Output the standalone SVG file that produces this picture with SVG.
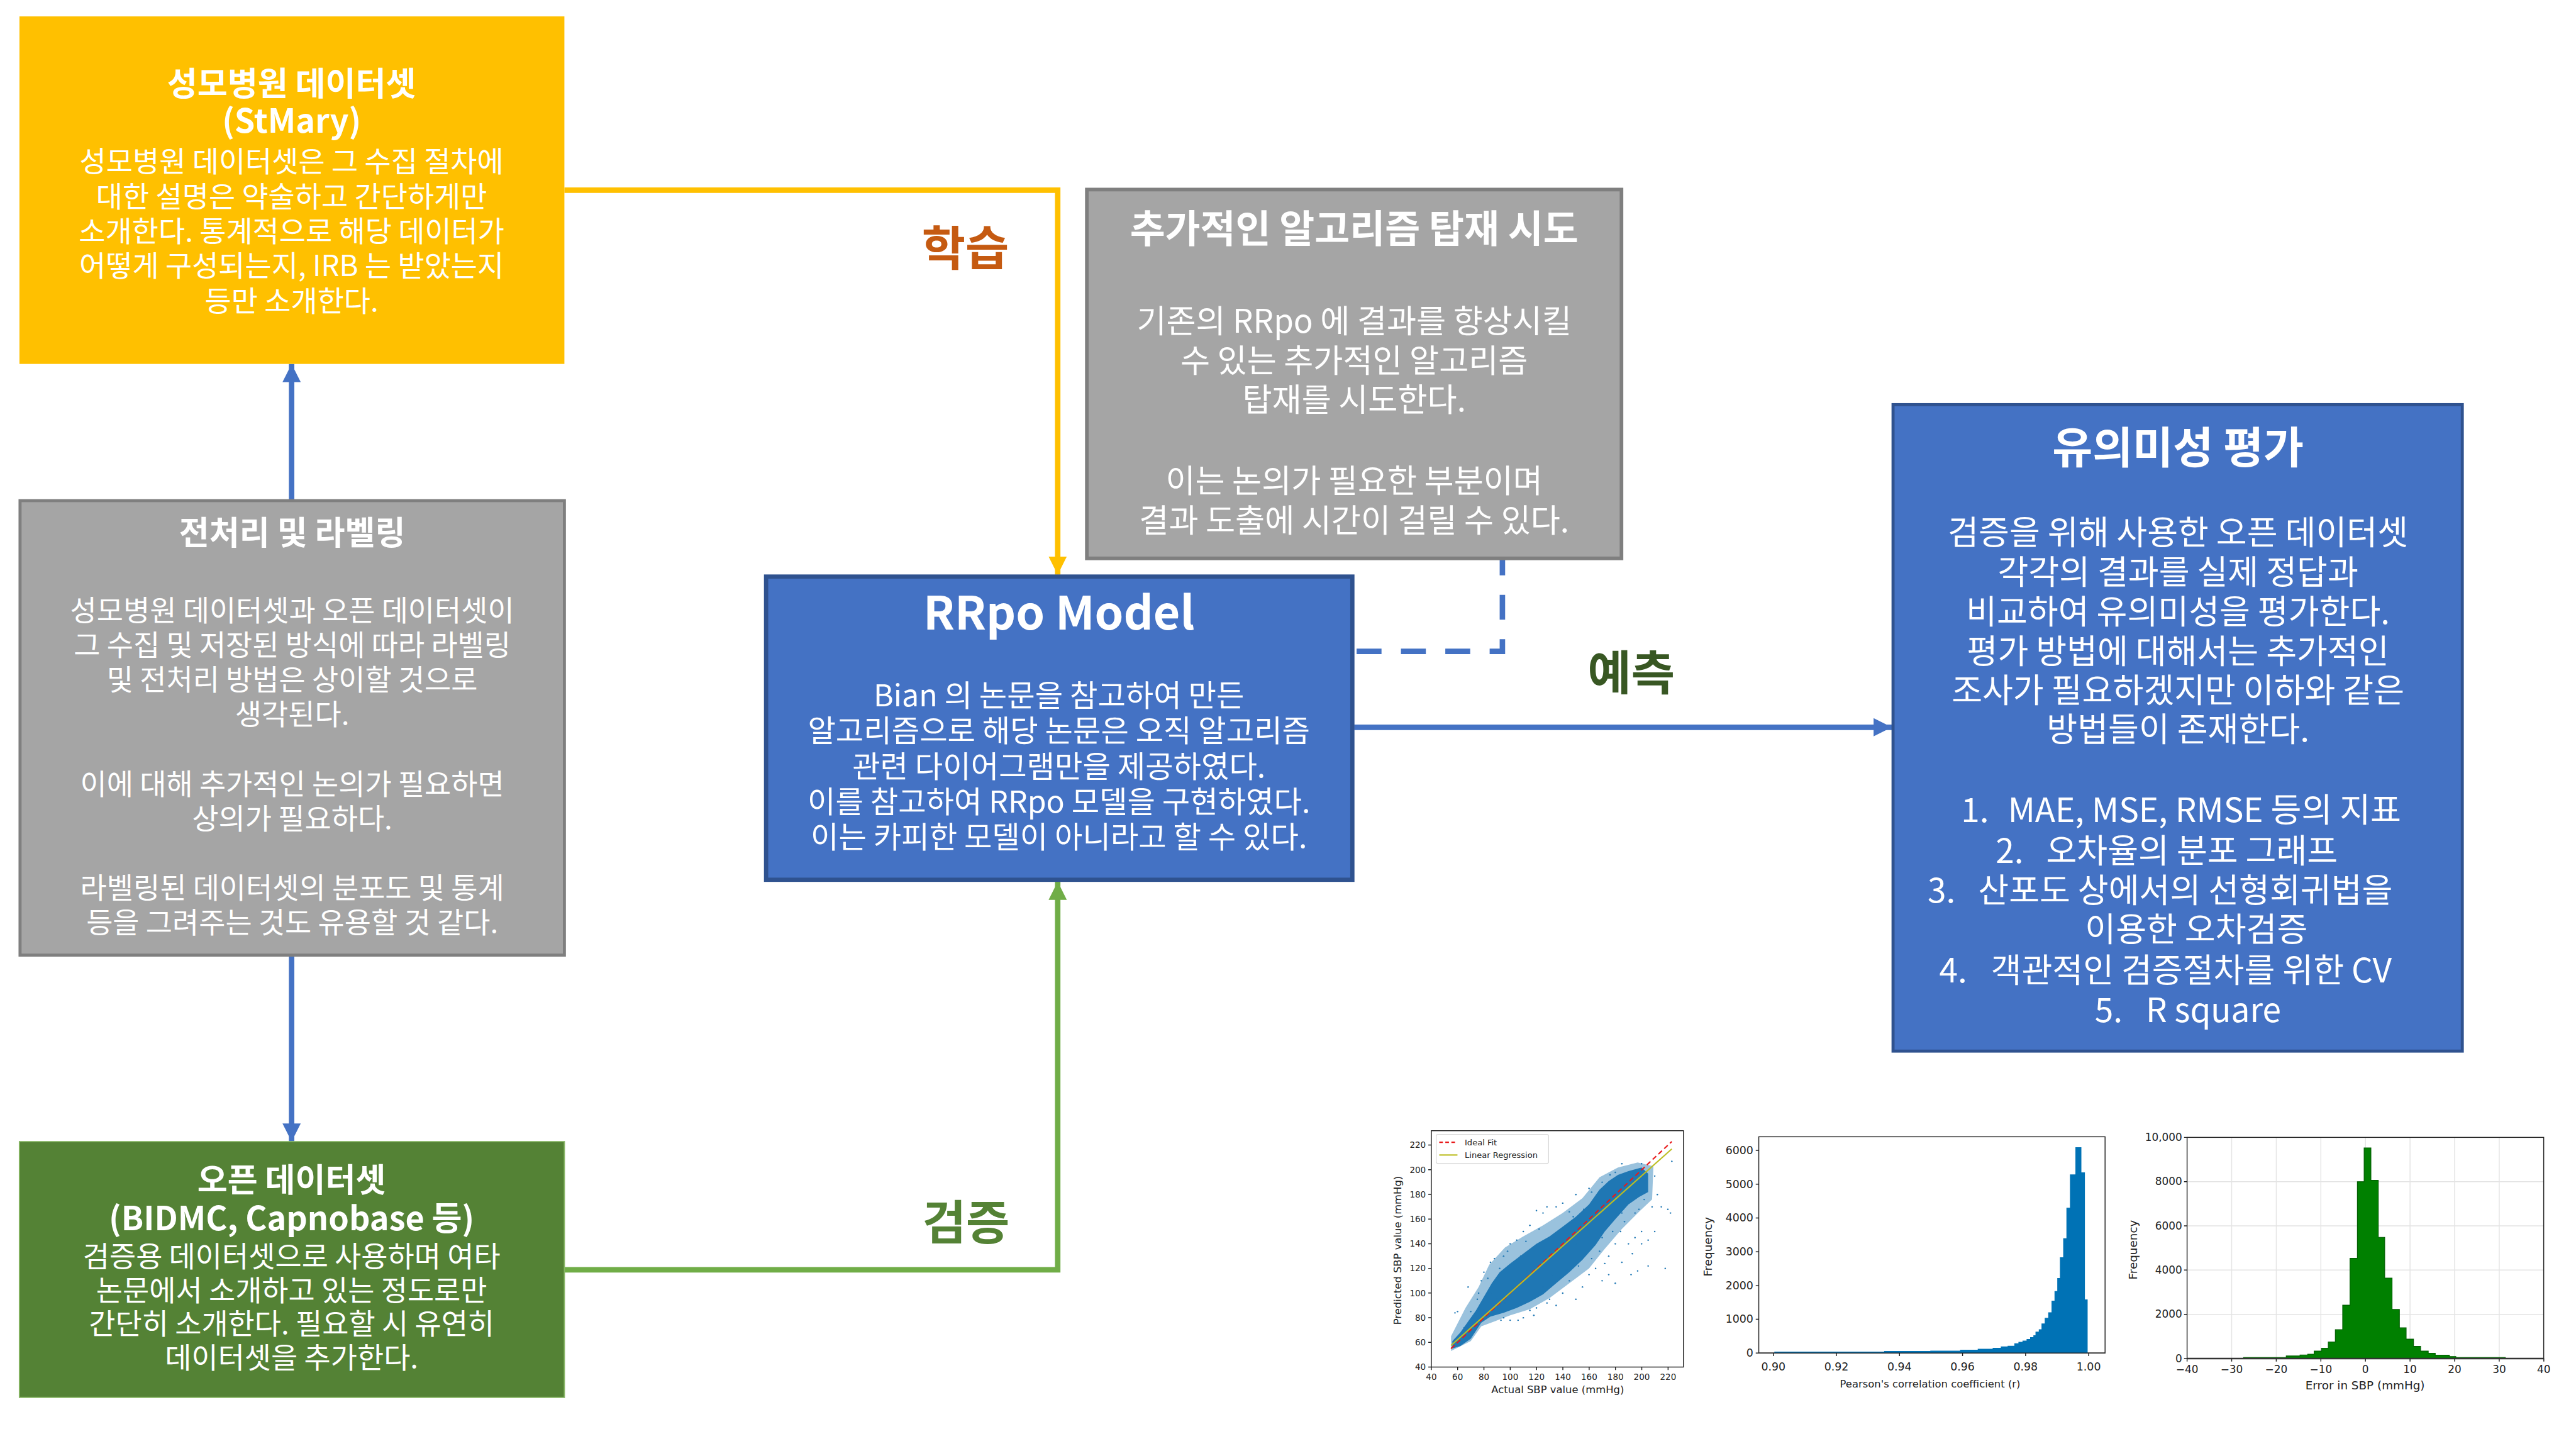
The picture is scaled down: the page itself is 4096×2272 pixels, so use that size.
<svg xmlns="http://www.w3.org/2000/svg" width="4096" height="2272" viewBox="0 0 4096 2272">
<style>
.k{font-family:"Noto Sans CJK KR","Noto Sans",sans-serif;fill:#fff;text-anchor:middle}
.s{text-anchor:start}
.b{font-weight:700}
.body{font-size:47.5px}
.lbl{font-family:"Noto Sans CJK KR",sans-serif;font-weight:700;font-size:78px;text-anchor:middle}
.ch{font-family:"DejaVu Sans","Liberation Sans",sans-serif;fill:#222}
.tk{stroke:#222;stroke-width:1.5}
.grid{stroke:#e4e4e4;stroke-width:1.5}
.conn{fill:none;stroke-width:9}
</style>
<defs>
<marker id="ay" markerUnits="userSpaceOnUse" markerWidth="32" markerHeight="32" refX="30" refY="16" orient="auto"><path d="M0,1 L30,16 L0,31 z" fill="#ffc000"/></marker>
<marker id="ag" markerUnits="userSpaceOnUse" markerWidth="32" markerHeight="32" refX="30" refY="16" orient="auto"><path d="M0,1 L30,16 L0,31 z" fill="#70ad47"/></marker>
<marker id="ab" markerUnits="userSpaceOnUse" markerWidth="32" markerHeight="32" refX="30" refY="16" orient="auto"><path d="M0,1 L30,16 L0,31 z" fill="#4472c4"/></marker>
</defs>
<rect width="4096" height="2272" fill="#fff"/>
<g transform="scale(0.966)">

<g id="connectors">
<path class="conn" d="M929,313 H1741 V946" stroke="#ffc000" marker-end="url(#ay)"/>
<path class="conn" d="M929,2090 H1741 V1451" stroke="#70ad47" marker-end="url(#ag)"/>
<path class="conn" d="M480,822 V599" stroke="#4472c4" marker-end="url(#ab)"/>
<path class="conn" d="M480,1574 V1879" stroke="#4472c4" marker-end="url(#ab)"/>
<path class="conn" d="M2229,1197 H3114" stroke="#4472c4" marker-end="url(#ab)"/>
<path class="conn" d="M2233,1072 H2473 V921" stroke="#4472c4" stroke-dasharray="41 32"/>
</g>

<g id="labels">
<text class="lbl" x="1589" y="437" fill="#c55a11">학습</text>
<text class="lbl" x="2685" y="1136" fill="#385723">예측</text>
<text class="lbl" x="1590" y="2040" fill="#548235">검증</text>
</g>

<g id="node-stmary">
<rect x="32" y="27" width="897" height="572" fill="#ffc000"/>
<text class="k b" font-size="54"><tspan x="480" y="157">성모병원 데이터셋</tspan><tspan x="480" dy="61">(StMary)</tspan></text>
<text class="k body"><tspan x="480" y="283">성모병원 데이터셋은 그 수집 절차에</tspan><tspan x="480" dy="57.3">대한 설명은 약술하고 간단하게만</tspan><tspan x="480" dy="57.3">소개한다. 통계적으로 해당 데이터가</tspan><tspan x="480" dy="57.3">어떻게 구성되는지, IRB 는 받았는지</tspan><tspan x="480" dy="57.3">등만 소개한다.</tspan></text>
</g>

<g id="node-preprocessing">
<rect x="33" y="824" width="896" height="748" fill="#a5a5a5" stroke="#7f7f7f" stroke-width="5"/>
<text class="k b" x="481" y="896" font-size="54">전처리 및 라벨링</text>
<text class="k body"><tspan x="481" y="1022">성모병원 데이터셋과 오픈 데이터셋이</tspan><tspan x="481" dy="57">그 수집 및 저장된 방식에 따라 라벨링</tspan><tspan x="481" dy="57">및 전처리 방법은 상이할 것으로</tspan><tspan x="481" dy="57">생각된다.</tspan><tspan x="481" dy="114">이에 대해 추가적인 논의가 필요하면</tspan><tspan x="481" dy="57">상의가 필요하다.</tspan><tspan x="481" dy="114">라벨링된 데이터셋의 분포도 및 통계</tspan><tspan x="481" dy="57">등을 그려주는 것도 유용할 것 같다.</tspan></text>
</g>

<g id="node-open-dataset">
<rect x="32" y="1879" width="897" height="421" fill="#548235" stroke="#86b464" stroke-width="2"/>
<text class="k b" font-size="54"><tspan x="480" y="1962">오픈 데이터셋</tspan><tspan x="480" dy="63">(BIDMC, Capnobase 등)</tspan></text>
<text class="k body"><tspan x="480" y="2085">검증용 데이터셋으로 사용하며 여타</tspan><tspan x="480" dy="55.5">논문에서 소개하고 있는 정도로만</tspan><tspan x="480" dy="55.5">간단히 소개한다. 필요할 시 유연히</tspan><tspan x="480" dy="55.5">데이터셋을 추가한다.</tspan></text>
</g>

<g id="node-additional">
<rect x="1789" y="312" width="880" height="607" fill="#a5a5a5" stroke="#7f7f7f" stroke-width="6"/>
<text class="k b" x="2229" y="400" font-size="63">추가적인 알고리즘 탑재 시도</text>
<text class="k" font-size="53"><tspan x="2229" y="548">기존의 RRpo 에 결과를 향상시킬</tspan><tspan x="2229" dy="65">수 있는 추가적인 알고리즘</tspan><tspan x="2229" dy="64">탑재를 시도한다.</tspan><tspan x="2229" dy="134">이는 논의가 필요한 부분이며</tspan><tspan x="2229" dy="65">결과 도출에 시간이 걸릴 수 있다.</tspan></text>
</g>

<g id="node-rrpo">
<rect x="1261" y="949" width="965" height="499" fill="#4472c4" stroke="#2f528f" stroke-width="7"/>
<text class="k b" x="1743" y="1036" font-size="76">RRpo Model</text>
<text class="k" font-size="50"><tspan x="1743" y="1163">Bian 의 논문을 참고하여 만든</tspan><tspan x="1743" dy="58">알고리즘으로 해당 논문은 오직 알고리즘</tspan><tspan x="1743" dy="58">관련 다이어그램만을 제공하였다.</tspan><tspan x="1743" dy="58">이를 참고하여 RRpo 모델을 구현하였다.</tspan><tspan x="1743" dy="58">이는 카피한 모델이 아니라고 할 수 있다.</tspan></text>
</g>

<g id="node-significance">
<rect x="3116" y="666" width="937" height="1064" fill="#4472c4" stroke="#2f528f" stroke-width="5"/>
<text class="k b" x="3585" y="763" font-size="72">유의미성 평가</text>
<text class="k" font-size="55"><tspan x="3585" y="896">검증을 위해 사용한 오픈 데이터셋</tspan><tspan x="3585" dy="66">각각의 결과를 실제 정답과</tspan><tspan x="3585" dy="65">비교하여 유의미성을 평가한다.</tspan><tspan x="3585" dy="65">평가 방법에 대해서는 추가적인</tspan><tspan x="3585" dy="64">조사가 필요하겠지만 이하와 같은</tspan><tspan x="3585" dy="64">방법들이 존재한다.</tspan></text>
<text class="k s" font-size="55"><tspan x="3228" y="1353">1.</tspan><tspan x="3305">MAE, MSE, RMSE 등의 지표</tspan><tspan x="3285" y="1420">2.</tspan><tspan x="3368">오차율의 분포 그래프</tspan><tspan x="3173" y="1485">3.</tspan><tspan x="3256">산포도 상에서의 선형회귀법을</tspan><tspan x="3432" y="1550">이용한 오차검증</tspan><tspan x="3192" y="1617">4.</tspan><tspan x="3277">객관적인 검증절차를 위한 CV</tspan><tspan x="3448" y="1682">5.</tspan><tspan x="3532">R square</tspan></text>
</g>

<g id="chart-scatter">
<rect x="2356" y="1861" width="415" height="389" fill="#fff" stroke="#222" stroke-width="1.5"/>
<g transform="matrix(2.163,0,0,-2.028,2269.48,2331.12)" fill="#1f77b4">
<polygon fill-opacity="0.45" points="55,53 70,61 78,73 88,77 100,82 115,87 130,96 145,108 160,120 172,136 185,152 198,166 208,176 209,203 197,206 182,202 168,194 155,177 140,165 125,155 110,146 96,137 84,123 76,105 66,88 55,65"/>
<polygon points="56,55 62,57 70,63 78,76 85,81 95,84 105,88 115,93 125,99 135,108 145,117 155,127 165,139 172,150 180,160 190,172 198,178 205,182 205,197 200,202 190,199 182,196 175,191 168,184 160,172 150,162 140,154 130,146 120,140 110,132 100,124 92,117 86,108 80,97 74,86 68,77 62,68 56,61"/>
<g>
<circle cx="190" cy="175" r="0.6"/><circle cx="195" cy="165" r="0.6"/><circle cx="200" cy="150" r="0.6"/><circle cx="205" cy="143" r="0.6"/><circle cx="210" cy="150" r="0.6"/><circle cx="215" cy="170" r="0.6"/><circle cx="220" cy="168" r="0.6"/><circle cx="222" cy="165" r="0.6"/><circle cx="218" cy="120" r="0.6"/><circle cx="192" cy="115" r="0.6"/><circle cx="185" cy="125" r="0.6"/><circle cx="180" cy="140" r="0.6"/><circle cx="175" cy="130" r="0.6"/><circle cx="170" cy="145" r="0.6"/><circle cx="165" cy="120" r="0.6"/><circle cx="160" cy="115" r="0.6"/><circle cx="155" cy="105" r="0.6"/><circle cx="150" cy="95" r="0.6"/><circle cx="145" cy="110" r="0.6"/><circle cx="140" cy="100" r="0.6"/><circle cx="135" cy="90" r="0.6"/><circle cx="130" cy="95" r="0.6"/><circle cx="125" cy="105" r="0.6"/><circle cx="120" cy="88" r="0.6"/><circle cx="110" cy="80" r="0.6"/><circle cx="100" cy="78" r="0.6"/><circle cx="95" cy="80" r="0.6"/><circle cx="90" cy="95" r="0.6"/><circle cx="85" cy="100" r="0.6"/><circle cx="78" cy="110" r="0.6"/><circle cx="75" cy="95" r="0.6"/><circle cx="70" cy="85" r="0.6"/><circle cx="65" cy="72" r="0.6"/><circle cx="60" cy="85" r="0.6"/><circle cx="58" cy="84" r="0.6"/><circle cx="68" cy="105" r="0.6"/><circle cx="80" cy="117" r="0.6"/><circle cx="85" cy="125" r="0.6"/><circle cx="95" cy="130" r="0.6"/><circle cx="100" cy="140" r="0.6"/><circle cx="105" cy="143" r="0.6"/><circle cx="110" cy="150" r="0.6"/><circle cx="115" cy="155" r="0.6"/><circle cx="120" cy="167" r="0.6"/><circle cx="125" cy="165" r="0.6"/><circle cx="128" cy="170" r="0.6"/><circle cx="140" cy="173" r="0.6"/><circle cx="135" cy="170" r="0.6"/><circle cx="150" cy="180" r="0.6"/><circle cx="160" cy="185" r="0.6"/><circle cx="165" cy="176" r="0.6"/><circle cx="170" cy="190" r="0.6"/><circle cx="180" cy="198" r="0.6"/><circle cx="185" cy="205" r="0.6"/><circle cx="200" cy="205" r="0.6"/><circle cx="210" cy="195" r="0.6"/><circle cx="212" cy="180" r="0.6"/><circle cx="208" cy="170" r="0.6"/><circle cx="223" cy="207" r="0.6"/><circle cx="195" cy="145" r="0.6"/><circle cx="190" cy="140" r="0.6"/><circle cx="175" cy="115" r="0.6"/><circle cx="170" cy="110" r="0.6"/><circle cx="180" cy="108" r="0.6"/><circle cx="200" cy="140" r="0.6"/><circle cx="205" cy="122" r="0.6"/><circle cx="197" cy="118" r="0.6"/><circle cx="185" cy="165" r="0.6"/><circle cx="178" cy="150" r="0.6"/><circle cx="162" cy="128" r="0.6"/><circle cx="150" cy="140" r="0.6"/><circle cx="132" cy="115" r="0.6"/><circle cx="118" cy="82" r="0.6"/><circle cx="106" cy="78" r="0.6"/><circle cx="96" cy="92" r="0.6"/><circle cx="92" cy="120" r="0.6"/><circle cx="88" cy="128" r="0.6"/><circle cx="108" cy="130" r="0.6"/><circle cx="148" cy="162" r="0.6"/><circle cx="156" cy="168" r="0.6"/><circle cx="187" cy="158" r="0.6"/><circle cx="193" cy="132" r="0.6"/><circle cx="172" cy="124" r="0.6"/><circle cx="158" cy="132" r="0.6"/><circle cx="143" cy="119" r="0.6"/><circle cx="127" cy="126" r="0.6"/><circle cx="113" cy="119" r="0.6"/><circle cx="103" cy="110" r="0.6"/><circle cx="83" cy="112" r="0.6"/><circle cx="72" cy="80" r="0.6"/>
<circle cx="138" cy="112" r="0.6"/><circle cx="152" cy="122" r="0.6"/><circle cx="168" cy="134" r="0.6"/><circle cx="184" cy="150" r="0.6"/><circle cx="198" cy="168" r="0.6"/><circle cx="202" cy="176" r="0.6"/><circle cx="122" cy="152" r="0.6"/><circle cx="112" cy="142" r="0.6"/><circle cx="98" cy="134" r="0.6"/><circle cx="145" cy="166" r="0.6"/><circle cx="162" cy="182" r="0.6"/><circle cx="176" cy="196" r="0.6"/><circle cx="93" cy="78" r="0.6"/><circle cx="115" cy="86" r="0.6"/><circle cx="128" cy="92" r="0.6"/><circle cx="76" cy="100" r="0.6"/>
</g>
</g>
<line x1="2388.4" y1="2219.6" x2="2751.8" y2="1878.9" stroke="#e8191a" stroke-width="2.2" stroke-dasharray="8 5"/>
<line x1="2388.4" y1="2214.5" x2="2751.8" y2="1891" stroke="#bcbd22" stroke-width="2.2"/>
<rect x="2364" y="1867" width="185" height="48" rx="3" fill="#fff" fill-opacity="0.85" stroke="#d5d5d5" stroke-width="1.2"/>
<line x1="2369" y1="1880" x2="2399" y2="1880" stroke="#e8191a" stroke-width="2.2" stroke-dasharray="6 4"/>
<line x1="2369" y1="1901" x2="2399" y2="1901" stroke="#bcbd22" stroke-width="2.2"/>
<text class="ch" font-size="13.5"><tspan x="2411" y="1885">Ideal Fit</tspan><tspan x="2411" y="1906">Linear Regression</tspan></text>
<g class="tk">
<path d="M2356,2250v5M2399.3,2250v5M2442.6,2250v5M2485.9,2250v5M2529.2,2250v5M2572.5,2250v5M2615.8,2250v5M2659.1,2250v5M2702.4,2250v5M2745.7,2250v5"/>
<path d="M2351,2250h5M2351,2209.4h5M2351,2168.8h5M2351,2128.2h5M2351,2087.6h5M2351,2047h5M2351,2006.4h5M2351,1965.8h5M2351,1925.2h5M2351,1884.6h5"/>
</g>
<g class="ch" font-size="14" text-anchor="middle">
<text x="2356" y="2271">40</text><text x="2399.3" y="2271">60</text><text x="2442.6" y="2271">80</text><text x="2485.9" y="2271">100</text><text x="2529.2" y="2271">120</text><text x="2572.5" y="2271">140</text><text x="2615.8" y="2271">160</text><text x="2659.1" y="2271">180</text><text x="2702.4" y="2271">200</text><text x="2745.7" y="2271">220</text>
</g>
<g class="ch" font-size="14" text-anchor="end">
<text x="2347" y="2255">40</text><text x="2347" y="2214.4">60</text><text x="2347" y="2173.8">80</text><text x="2347" y="2133.2">100</text><text x="2347" y="2092.6">120</text><text x="2347" y="2052">140</text><text x="2347" y="2011.4">160</text><text x="2347" y="1970.8">180</text><text x="2347" y="1930.2">200</text><text x="2347" y="1889.6">220</text>
</g>
<text class="ch" x="2564" y="2293" font-size="17" text-anchor="middle">Actual SBP value (mmHg)</text>
<text class="ch" transform="translate(2306,2058) rotate(-90)" font-size="17" text-anchor="middle">Predicted SBP value (mmHg)</text>
</g>

<g id="chart-pearson">
<rect x="2895" y="1871" width="570" height="356" fill="#fff" stroke="#222" stroke-width="1.5"/>
<path fill="#0072b5" d="M2920.6,2226.9 V2224.7 H3101.4 V2223.7 H3177.3 V2223.1 H3226.4 V2221.5 H3255.4 V2219.9 H3280 V2218.3 H3293.4 V2216.1 H3304.6 V2215.1 H3315.7 V2211 H3322.4 V2208.7 H3329.1 V2206.5 H3335.8 V2204 H3341.6 V2200.8 H3347 V2197.6 H3350.5 V2191.8 H3355.9 V2188 H3360.4 V2178.4 H3365.7 V2168.9 H3371.5 V2160 H3376.9 V2140.8 H3381.8 V2124.9 H3386.3 V2103.5 H3390.7 V2069.4 H3396.1 V2038.1 H3401.4 V1987.8 H3407.2 V1932.9 H3416.2 V1888.3 H3426 V1929.7 H3431.8 V2138.6 H3436.3 V2226.9 Z"/>
<line x1="2895" y1="2227" x2="3465" y2="2227" stroke="#222" stroke-width="1.5"/>
<g class="tk">
<path d="M2919,2227v5M3022.8,2227v5M3126.6,2227v5M3230.4,2227v5M3334.2,2227v5M3438,2227v5"/>
<path d="M2890,2227h5M2890,2171.4h5M2890,2115.8h5M2890,2060.2h5M2890,2004.6h5M2890,1949h5M2890,1893.4h5"/>
</g>
<g class="ch" font-size="18" text-anchor="middle">
<text x="2919" y="2256">0.90</text><text x="3022.8" y="2256">0.92</text><text x="3126.6" y="2256">0.94</text><text x="3230.4" y="2256">0.96</text><text x="3334.2" y="2256">0.98</text><text x="3438" y="2256">1.00</text>
</g>
<g class="ch" font-size="18" text-anchor="end">
<text x="2886" y="2233">0</text><text x="2886" y="2177.4">1000</text><text x="2886" y="2121.8">2000</text><text x="2886" y="2066.2">3000</text><text x="2886" y="2010.6">4000</text><text x="2886" y="1955">5000</text><text x="2886" y="1899.4">6000</text>
</g>
<text class="ch" x="3177" y="2284" font-size="17" text-anchor="middle">Pearson's correlation coefficient (r)</text>
<text class="ch" transform="translate(2818,2052) rotate(-90)" font-size="19" text-anchor="middle">Frequency</text>
</g>

<g id="chart-error">
<rect x="3600" y="1872" width="587" height="364" fill="#fff"/>
<g class="grid">
<path d="M3673.4,1872V2236M3746.8,1872V2236M3820.2,1872V2236M3893.6,1872V2236M3967,1872V2236M4040.4,1872V2236M4113.8,1872V2236"/>
<path d="M3600,2163.2H4187M3600,2090.4H4187M3600,2017.6H4187M3600,1944.8H4187"/>
</g>
<path fill="#008000" stroke="#005c00" stroke-width="1.2" d="M3693,2235.8 V2234.2 H3763.2 V2231.7 H3785.9 V2230.1 H3798.5 V2228.8 H3809.1 V2223.7 H3821.2 V2218.9 H3832.4 V2208.7 H3844 V2188.6 H3856.1 V2148.1 H3868.2 V2071 H3880.3 V1945 H3891.4 V1889.2 H3902.6 V1942.5 H3914.7 V2036.5 H3925.3 V2103.5 H3937.4 V2155.2 H3949.5 V2185.5 H3960.6 V2204 H3972.7 V2215.8 H3984.4 V2223.7 H3997 V2227.2 H4008.5 V2230.4 H4031.8 V2232.7 H4042.4 V2234.2 H4123.8 V2235.8 Z"/>
<rect x="3600" y="1872" width="587" height="364" fill="none" stroke="#222" stroke-width="1.5"/>
<line x1="3600" y1="2236" x2="4187" y2="2236" stroke="#333" stroke-width="2.5"/>
<g class="tk">
<path d="M3600,2236v5M3673.4,2236v5M3746.8,2236v5M3820.2,2236v5M3893.6,2236v5M3967,2236v5M4040.4,2236v5M4113.8,2236v5M4187.2,2236v5"/>
<path d="M3595,2236h5M3595,2163.2h5M3595,2090.4h5M3595,2017.6h5M3595,1944.8h5M3595,1872h5"/>
</g>
<g class="ch" font-size="17.5" text-anchor="middle">
<text x="3600" y="2260">−40</text><text x="3673.4" y="2260">−30</text><text x="3746.8" y="2260">−20</text><text x="3820.2" y="2260">−10</text><text x="3893.6" y="2260">0</text><text x="3967" y="2260">10</text><text x="4040.4" y="2260">20</text><text x="4113.8" y="2260">30</text><text x="4187.2" y="2260">40</text>
</g>
<g class="ch" font-size="17.5" text-anchor="end">
<text x="3592" y="2242">0</text><text x="3592" y="2169.2">2000</text><text x="3592" y="2096.4">4000</text><text x="3592" y="2023.6">6000</text><text x="3592" y="1950.8">8000</text><text x="3592" y="1878">10,000</text>
</g>
<text class="ch" x="3893" y="2287" font-size="19" text-anchor="middle">Error in SBP (mmHg)</text>
<text class="ch" transform="translate(3518,2057) rotate(-90)" font-size="19" text-anchor="middle">Frequency</text>
</g>

</g>
</svg>
